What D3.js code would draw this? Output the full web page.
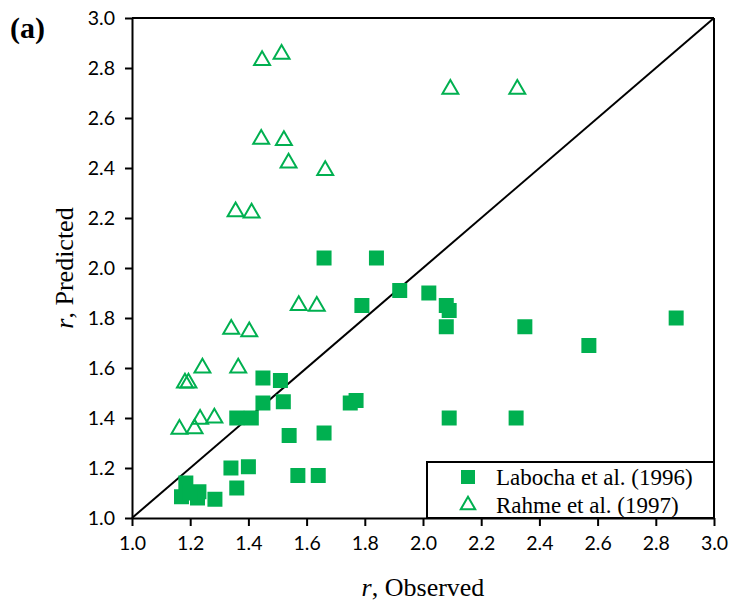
<!DOCTYPE html>
<html>
<head>
<meta charset="utf-8">
<script src="https://cdn.jsdelivr.net/npm/d3@7"></script>
<style>
  body { margin: 0; background: #fff; }
  .tick text { font-family: Lato, "Open Sans", sans-serif; font-size: 19.5px; fill: #000; }
  .axis path, .axis line { stroke: #000; stroke-width: 2px; }
</style>
</head>
<body>
<svg class="chart"></svg>
<script>
// Labocha et al. (1996): observed / predicted
var labochaObs = [1.66, 1.84, 1.79, 1.92, 2.02, 2.08, 2.09, 2.08, 2.35, 2.57, 2.87, 2.09, 2.32,
    1.45, 1.51, 1.52, 1.45, 1.36, 1.41, 1.54, 1.66, 1.75, 1.77,
    1.34, 1.40, 1.36, 1.57, 1.64, 1.17, 1.185, 1.23, 1.225, 1.285, 1.20];
var labochaPred = [2.04, 2.04, 1.85, 1.91, 1.90, 1.85, 1.83, 1.765, 1.765, 1.69, 1.80, 1.40, 1.40,
    1.56, 1.55, 1.465, 1.46, 1.40, 1.40, 1.33, 1.34, 1.46, 1.47,
    1.20, 1.205, 1.12, 1.17, 1.17, 1.085, 1.14, 1.105, 1.08, 1.075, 1.10];

// Rahme et al. (1997)
var rahmeObs = [1.447, 1.514, 1.444, 1.522, 1.538, 1.664, 1.356, 1.411, 1.573, 1.635, 1.341, 1.403,
    2.094, 2.324, 1.242, 1.365, 1.182, 1.194, 1.163, 1.215, 1.234, 1.283];
var rahmePred = [2.83, 2.855, 2.515, 2.51, 2.42, 2.39, 2.225, 2.22, 1.85, 1.847, 1.755, 1.745,
    2.715, 2.715, 1.60, 1.60, 1.54, 1.54, 1.355, 1.357, 1.395, 1.40];

var tickValues = [1.0, 1.2, 1.4, 1.6, 1.8, 2.0, 2.2, 2.4, 2.6, 2.8, 3.0];
var legendLabels = ['Labocha et al. (1996)', 'Rahme et al. (1997)'];

var green = '#00B050';

var margin = { top: 18, right: 15, bottom: 89, left: 132 },
    width = 729 - margin.left - margin.right,
    height = 607 - margin.top - margin.bottom;

var svg = d3.select('.chart').attr('width', 729).attr('height', 607);
var chart = svg.append('g').attr('transform', 'translate(' + margin.left + ',' + margin.top + ')');

var x = d3.scaleLinear().domain([1, 3]).range([0, width]);
var y = d3.scaleLinear().domain([1, 3]).range([height, 0]);

var fmt = d3.format('.1f');

// axes
chart.append('g').attr('class', 'x axis')
    .attr('transform', 'translate(0,' + height + ')')
    .call(d3.axisBottom(x).tickValues(tickValues).tickFormat(fmt).tickSize(8).tickSizeOuter(0).tickPadding(10));

chart.append('g').attr('class', 'y axis')
    .call(d3.axisLeft(y).tickValues(tickValues).tickFormat(fmt).tickSize(7).tickSizeOuter(0).tickPadding(10));

chart.selectAll('.y.axis .tick text').attr('dy', '0.35em');

// top and right frame
chart.append('line').attr('x1', 0).attr('x2', width).attr('y1', 0).attr('y2', 0)
    .attr('stroke', '#000').attr('stroke-width', 2);
chart.append('line').attr('x1', width).attr('x2', width).attr('y1', 0).attr('y2', height)
    .attr('stroke', '#000').attr('stroke-width', 2);

// 1:1 line
chart.append('line')
    .attr('x1', x(1)).attr('y1', y(1)).attr('x2', x(3)).attr('y2', y(3))
    .attr('stroke', '#000').attr('stroke-width', 2);

var squareSym = d3.symbol().type(d3.symbolSquare).size(225);
var triSym = d3.symbol().type(d3.symbolTriangle).size(110);

// Labocha squares
chart.selectAll('.sq')
    .data(labochaObs)
    .enter()
    .append('path')
    .attr('class', 'sq')
    .attr('d', squareSym)
    .attr('fill', green)
    .attr('transform', function (d, i) {
        return 'translate(' + x(d) + ',' + y(labochaPred[i]) + ')';
    });

// Rahme triangles
chart.selectAll('.tri')
    .data(rahmeObs)
    .enter()
    .append('path')
    .attr('class', 'tri')
    .attr('d', triSym)
    .attr('fill', 'none')
    .attr('stroke', green)
    .attr('stroke-width', 2)
    .attr('transform', function (d, i) {
        return 'translate(' + x(d) + ',' + y(rahmePred[i]) + ')';
    });

// legend
var legend = chart.append('g').attr('transform', 'translate(' + (427 - margin.left) + ',' + (462 - margin.top) + ')');
legend.append('rect')
    .attr('width', width - (427 - margin.left))
    .attr('height', height - (462 - margin.top))
    .attr('fill', '#fff')
    .attr('stroke', '#000')
    .attr('stroke-width', 2);

legendLabels.forEach(function (lab, i) {
    var ly = 15 + i * 28;
    legend.append('path')
        .attr('d', i === 0 ? d3.symbol().type(d3.symbolSquare).size(196)() : d3.symbol().type(d3.symbolTriangle).size(90)())
        .attr('transform', 'translate(41,' + ly + ')')
        .attr('fill', i === 0 ? green : 'none')
        .attr('stroke', i === 0 ? 'none' : green)
        .attr('stroke-width', 2);
    legend.append('text')
        .attr('x', 69)
        .attr('y', ly)
        .attr('dy', '0.35em')
        .style('font-family', '"Liberation Serif", "Times New Roman", serif')
        .style('font-size', '23px')
        .text(lab);
});

// axis titles
var xt = svg.append('text')
    .attr('x', margin.left + width / 2)
    .attr('y', 596)
    .attr('text-anchor', 'middle')
    .style('font-family', '"Liberation Serif", "Times New Roman", serif')
    .style('font-size', '26px');
xt.append('tspan').style('font-style', 'italic').text('r');
xt.append('tspan').text(', Observed');

var yt = svg.append('text')
    .attr('transform', 'translate(73,' + (margin.top + height / 2) + ') rotate(-90)')
    .attr('text-anchor', 'middle')
    .style('font-family', '"Liberation Serif", "Times New Roman", serif')
    .style('font-size', '26px');
yt.append('tspan').style('font-style', 'italic').text('r');
yt.append('tspan').text(', Predicted');

// panel label
svg.append('text')
    .attr('x', 10)
    .attr('y', 38)
    .style('font-family', '"Liberation Serif", "Times New Roman", serif')
    .style('font-size', '30px')
    .style('font-weight', 'bold')
    .text('(a)');
</script>
</body>
</html>
